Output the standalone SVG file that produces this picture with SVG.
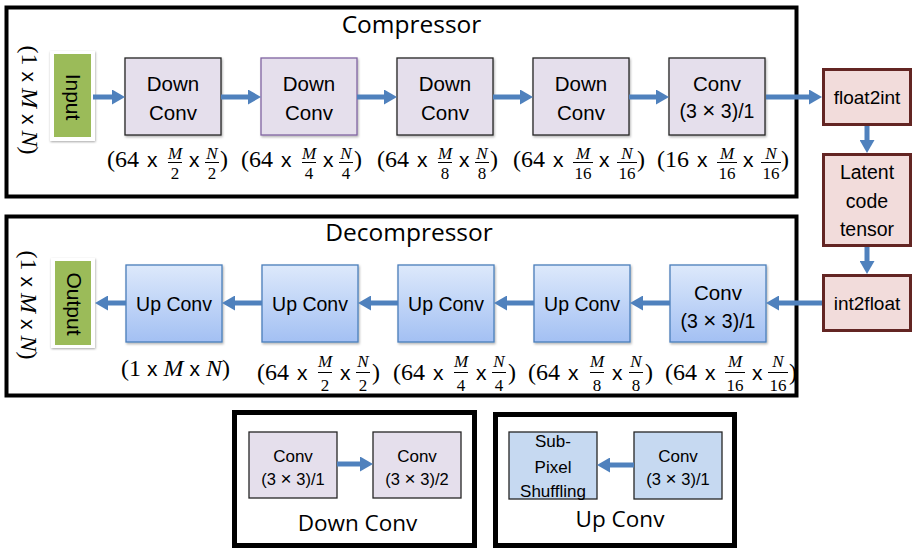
<svg xmlns="http://www.w3.org/2000/svg" width="915" height="553" viewBox="0 0 915 553">
<defs>
<style>
.frame{fill:none;stroke:#000;stroke-width:4}
.frame5{fill:none;stroke:#000;stroke-width:5}
.title{font-family:"Open Sans","Noto Sans",sans-serif;font-size:24.5px;fill:#000;text-anchor:middle}
.dc{fill:#e5dfec;stroke:#262626;stroke-width:1.3;filter:url(#bs)}
.uc{fill:url(#ug);stroke:#4a7ebb;stroke-width:1.3;filter:url(#bs)}
.lb{fill:#c6d9f1;stroke:#262626;stroke-width:1.3}
.br{fill:#f2dcdb;stroke:#632523;stroke-width:3}
.t{font-family:"Liberation Sans",Arial,sans-serif;font-size:20.5px;fill:#000;text-anchor:middle}
.ts{font-family:"Liberation Sans",Arial,sans-serif;font-size:17px;fill:#000;text-anchor:middle}
.mul{font-size:1.15em}
.m{font-family:"Liberation Serif","Times New Roman",serif;font-size:24px;fill:#000}
.mi{font-style:italic}
.x{font-family:"Liberation Sans",Arial,sans-serif;font-size:21px;fill:#000}
.f{font-family:"Liberation Serif","Times New Roman",serif;font-size:17px;fill:#000;text-anchor:middle}
.bar{stroke:#000;stroke-width:1}
.arr{fill:none;stroke:#4f81bd;stroke-width:5;marker-end:url(#ah)}
.green{fill:#9bbb59}
.gframe{fill:#fff;filter:url(#sh)}
</style>
<linearGradient id="ug" x1="0" y1="0" x2="0" y2="1">
<stop offset="0" stop-color="#dde9fb"/>
<stop offset="1" stop-color="#a3c0f3"/>
</linearGradient>
<marker id="ah" markerUnits="userSpaceOnUse" markerWidth="14" markerHeight="15" refX="1" refY="7.5" orient="auto">
<path d="M0,0 L13,7.5 L0,15 z" fill="#4f81bd"/>
</marker>
<filter id="sh" x="-20%" y="-20%" width="140%" height="140%">
<feDropShadow dx="0.5" dy="1" stdDeviation="1" flood-color="#000" flood-opacity="0.35"/>
</filter>
<filter id="bs" x="-10%" y="-10%" width="125%" height="125%">
<feDropShadow dx="1" dy="1.5" stdDeviation="0.8" flood-color="#000" flood-opacity="0.3"/>
</filter>
</defs>

<g id="compressor">
<rect class="frame" x="6.5" y="7.5" width="790" height="189"/>
<text class="title" x="411.5" y="33">Compressor</text>
</g>
<g id="decompressor">
<rect class="frame" x="6.5" y="216.5" width="790" height="179"/>
<text class="title" x="409" y="241">Decompressor</text>
</g>

<g id="input">
<rect class="gframe" x="50" y="51" width="45" height="90"/>
<rect class="green" x="54" y="54" width="37" height="83"/>
<text class="t" style="font-size:21px" transform="translate(65.5,97) rotate(90)">Input</text>
<text class="m" transform="translate(22,100) rotate(90)" text-anchor="middle">(1 <tspan class="x">x</tspan> <tspan class="mi">M</tspan> <tspan class="x">x</tspan> <tspan class="mi">N</tspan>)</text>
</g>

<g id="dc1"><rect class="dc" x="125" y="58" width="96" height="77"/><text class="t" x="173" y="91">Down</text><text class="t" x="173" y="120">Conv</text></g>
<g id="dc2"><rect class="dc" x="261" y="58" width="96" height="77" style="stroke:#8064a2"/><text class="t" x="309" y="91">Down</text><text class="t" x="309" y="120">Conv</text></g>
<g id="dc3"><rect class="dc" x="397" y="58" width="96" height="77"/><text class="t" x="445" y="91">Down</text><text class="t" x="445" y="120">Conv</text></g>
<g id="dc4"><rect class="dc" x="533" y="58" width="96" height="77"/><text class="t" x="581" y="91">Down</text><text class="t" x="581" y="120">Conv</text></g>
<g id="cconv"><rect class="dc" x="669" y="58" width="96" height="77"/><text class="t" x="717" y="91">Conv</text><text class="t" style="font-size:19.5px" x="717" y="118">(3 <tspan class="mul">×</tspan> 3)/1</text></g>

<g id="float2int"><rect class="br" x="823.5" y="69.5" width="87" height="55"/><text class="t" style="font-size:19px" x="867" y="104">float2int</text></g>
<g id="latent"><rect class="br" x="823.5" y="154.5" width="87" height="91"/><text class="t" style="font-size:19.5px" x="867" y="179">Latent</text><text class="t" style="font-size:19.5px" x="867" y="208">code</text><text class="t" style="font-size:19.5px" x="867" y="236">tensor</text></g>
<g id="int2float"><rect class="br" x="823.5" y="275.5" width="87" height="55"/><text class="t" style="font-size:19px" x="867" y="310">int2float</text></g>

<g id="output">
<rect class="gframe" x="51" y="258" width="44" height="90"/>
<rect class="green" x="55" y="261" width="36" height="84"/>
<text class="t" style="font-size:21px" transform="translate(66.5,304) rotate(90)">Output</text>
<text class="m" transform="translate(21,305) rotate(90)" text-anchor="middle">(1 <tspan class="x">x</tspan> <tspan class="mi">M</tspan> <tspan class="x">x</tspan> <tspan class="mi">N</tspan>)</text>
</g>

<g id="uc1"><rect class="uc" x="126" y="265" width="96" height="77"/><text class="t" style="font-size:19.5px" x="174" y="311">Up Conv</text></g>
<g id="uc2"><rect class="uc" x="262" y="265" width="96" height="77"/><text class="t" style="font-size:19.5px" x="310" y="311">Up Conv</text></g>
<g id="uc3"><rect class="uc" x="398" y="265" width="96" height="77"/><text class="t" style="font-size:19.5px" x="446" y="311">Up Conv</text></g>
<g id="uc4"><rect class="uc" x="534" y="265" width="96" height="77"/><text class="t" style="font-size:19.5px" x="582" y="311">Up Conv</text></g>
<g id="dconv"><rect class="uc" x="670" y="265" width="96" height="77"/><text class="t" x="718" y="300">Conv</text><text class="t" style="font-size:19.5px" x="718" y="328">(3 <tspan class="mul">×</tspan> 3)/1</text></g>

<g id="labels-c">
<g transform="translate(107,167)"><text class="m" x="0" y="0">(64</text><text class="x" x="40" y="0">x</text><text class="f mi" x="68" y="-8">M</text><line class="bar" x1="61" x2="75" y1="-4.5" y2="-4.5"/><text class="f" x="68" y="12">2</text><text class="x" x="82" y="0">x</text><text class="f mi" x="105" y="-8">N</text><line class="bar" x1="98" x2="112" y1="-4.5" y2="-4.5"/><text class="f" x="105" y="12">2</text><text class="m" x="113" y="0">)</text></g>
<g transform="translate(241,167)"><text class="m" x="0" y="0">(64</text><text class="x" x="40" y="0">x</text><text class="f mi" x="68" y="-8">M</text><line class="bar" x1="61" x2="75" y1="-4.5" y2="-4.5"/><text class="f" x="68" y="12">4</text><text class="x" x="82" y="0">x</text><text class="f mi" x="105" y="-8">N</text><line class="bar" x1="98" x2="112" y1="-4.5" y2="-4.5"/><text class="f" x="105" y="12">4</text><text class="m" x="113" y="0">)</text></g>
<g transform="translate(377,167)"><text class="m" x="0" y="0">(64</text><text class="x" x="40" y="0">x</text><text class="f mi" x="68" y="-8">M</text><line class="bar" x1="61" x2="75" y1="-4.5" y2="-4.5"/><text class="f" x="68" y="12">8</text><text class="x" x="82" y="0">x</text><text class="f mi" x="105" y="-8">N</text><line class="bar" x1="98" x2="112" y1="-4.5" y2="-4.5"/><text class="f" x="105" y="12">8</text><text class="m" x="113" y="0">)</text></g>
<g transform="translate(513,167)"><text class="m" x="0" y="0">(64</text><text class="x" x="40" y="0">x</text><text class="f mi" x="70" y="-8">M</text><line class="bar" x1="60" x2="80" y1="-4.5" y2="-4.5"/><text class="f" x="70" y="12">16</text><text class="x" x="86" y="0">x</text><text class="f mi" x="114" y="-8">N</text><line class="bar" x1="104" x2="124" y1="-4.5" y2="-4.5"/><text class="f" x="114" y="12">16</text><text class="m" x="124" y="0">)</text></g>
<g transform="translate(657,167)"><text class="m" x="0" y="0">(16</text><text class="x" x="40" y="0">x</text><text class="f mi" x="70" y="-8">M</text><line class="bar" x1="60" x2="80" y1="-4.5" y2="-4.5"/><text class="f" x="70" y="12">16</text><text class="x" x="86" y="0">x</text><text class="f mi" x="114" y="-8">N</text><line class="bar" x1="104" x2="124" y1="-4.5" y2="-4.5"/><text class="f" x="114" y="12">16</text><text class="m" x="124" y="0">)</text></g>
</g>

<g id="labels-d">
<text class="m" x="121" y="376">(1 <tspan class="x">x</tspan> <tspan class="mi">M</tspan> <tspan class="x">x</tspan> <tspan class="mi">N</tspan>)</text>
<g transform="translate(257,380)"><text class="m" x="0" y="0">(64</text><text class="x" x="40" y="0">x</text><text class="f mi" x="68" y="-13">M</text><line class="bar" x1="61" x2="75" y1="-7.5" y2="-7.5"/><text class="f" x="68" y="11">2</text><text class="x" x="83" y="0">x</text><text class="f mi" x="106" y="-13">N</text><line class="bar" x1="99" x2="113" y1="-7.5" y2="-7.5"/><text class="f" x="106" y="11">2</text><text class="m" x="115" y="0">)</text></g>
<g transform="translate(393,380)"><text class="m" x="0" y="0">(64</text><text class="x" x="40" y="0">x</text><text class="f mi" x="68" y="-13">M</text><line class="bar" x1="61" x2="75" y1="-7.5" y2="-7.5"/><text class="f" x="68" y="11">4</text><text class="x" x="83" y="0">x</text><text class="f mi" x="106" y="-13">N</text><line class="bar" x1="99" x2="113" y1="-7.5" y2="-7.5"/><text class="f" x="106" y="11">4</text><text class="m" x="115" y="0">)</text></g>
<g transform="translate(528,380)"><text class="m" x="0" y="0">(64</text><text class="x" x="40" y="0">x</text><text class="f mi" x="69" y="-13">M</text><line class="bar" x1="62" x2="76" y1="-7.5" y2="-7.5"/><text class="f" x="69" y="11">8</text><text class="x" x="84" y="0">x</text><text class="f mi" x="108" y="-13">N</text><line class="bar" x1="101" x2="115" y1="-7.5" y2="-7.5"/><text class="f" x="108" y="11">8</text><text class="m" x="117" y="0">)</text></g>
<g transform="translate(665,380)"><text class="m" x="0" y="0">(64</text><text class="x" x="40" y="0">x</text><text class="f mi" x="70" y="-13">M</text><line class="bar" x1="60" x2="80" y1="-7.5" y2="-7.5"/><text class="f" x="70" y="11">16</text><text class="x" x="87" y="0">x</text><text class="f mi" x="113" y="-13">N</text><line class="bar" x1="103" x2="123" y1="-7.5" y2="-7.5"/><text class="f" x="113" y="11">16</text><text class="m" x="124" y="0">)</text></g>
</g>

<g id="downconv-legend">
<rect class="frame5" x="234.5" y="412.5" width="240" height="133"/>
<g id="dl1"><rect class="dc" x="249" y="432" width="88" height="66" style="filter:none"/><text class="ts" x="293" y="462">Conv</text><text class="ts" style="font-size:16.5px" x="293" y="485">(3 <tspan class="mul">×</tspan> 3)/1</text></g>
<g id="dl2"><rect class="dc" x="373" y="432" width="88" height="66" style="filter:none"/><text class="ts" x="417" y="462">Conv</text><text class="ts" style="font-size:16.5px" x="417" y="485">(3 <tspan class="mul">×</tspan> 3)/2</text></g>
<text class="title" style="font-size:22.5px" x="357.5" y="531">Down Conv</text>
</g>

<g id="upconv-legend">
<rect class="frame5" x="495.5" y="414.5" width="239" height="131"/>
<g id="ul1"><rect class="lb" x="509" y="432" width="88" height="67"/><text class="ts" x="553" y="447">Sub-</text><text class="ts" x="553" y="473">Pixel</text><text class="ts" x="553" y="497">Shuffling</text></g>
<g id="ul2"><rect class="lb" x="634" y="432" width="88" height="67"/><text class="ts" x="678" y="462">Conv</text><text class="ts" style="font-size:16.5px" x="678" y="485">(3 <tspan class="mul">×</tspan> 3)/1</text></g>
<text class="title" style="font-size:22.5px" x="620" y="527">Up Conv</text>
</g>

<g id="connectors">
<path class="arr" d="M93,97 H113"/>
<path class="arr" d="M221,97 H249"/>
<path class="arr" d="M357,97 H385"/>
<path class="arr" d="M493,97 H521"/>
<path class="arr" d="M629,97 H657"/>
<path class="arr" d="M766,97 H810"/>
<path class="arr" d="M867,126 V141"/>
<path class="arr" d="M867,247 V262"/>
<path class="arr" d="M822,303 H778"/>
<path class="arr" d="M670,303 H642"/>
<path class="arr" d="M534,303 H506"/>
<path class="arr" d="M398,303 H370"/>
<path class="arr" d="M262,303 H234"/>
<path class="arr" d="M126,303 H107"/>
<path class="arr" d="M337,464 H361"/>
<path class="arr" d="M634,465 H609"/>
</g>
</svg>
